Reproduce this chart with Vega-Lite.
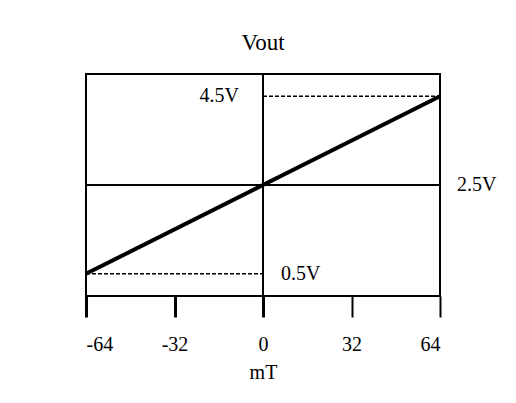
{
  "$schema": "https://vega.github.io/schema/vega-lite/v6.json",
  "width": 354,
  "height": 222,
  "autosize": {"type": "none"},
  "padding": {"left": 86, "top": 74, "right": 76, "bottom": 107},
  "background": "white",
  "config": {"view": {"stroke": "black", "strokeWidth": 2}, "font": "Liberation Serif"},
  "title": {"text": "Vout", "fontSize": 23, "fontWeight": "normal", "font": "Liberation Serif", "color": "black", "offset": 0, "baseline": "alphabetic"},
  "layer": [
    {
      "data": {"values": [{"mT": -64, "V": 0.5}, {"mT": 64, "V": 4.5}]},
      "mark": {"type": "line", "color": "black", "strokeWidth": 4},
      "encoding": {
        "x": {"field": "mT", "type": "quantitative", "scale": {"domain": [-64, 64], "nice": false, "zero": false},
          "axis": {"values": [-64, -32, 0, 32, 64], "domain": false, "grid": false, "tickSize": 21, "tickColor": "black",
            "tickWidth": {"condition": {"test": "datum.value <= 0", "value": 3}, "value": 2},
            "labelExpr": "toString(datum.value)",
            "labelFontSize": 20, "labelColor": "black", "labelPadding": 17, "labelFont": "Liberation Serif",
            "title": "mT", "titleFontSize": 20, "titleFontWeight": "normal", "titleColor": "black", "titlePadding": 8, "titleFont": "Liberation Serif"}},
        "y": {"field": "V", "type": "quantitative", "scale": {"domain": [0, 5], "nice": false, "zero": false}, "axis": null}
      }
    },
    {
      "data": {"values": [{"x1": 0, "x2": 64, "y": 4.5}, {"x1": -64, "x2": 0, "y": 0.5}]},
      "mark": {"type": "rule", "color": "black", "strokeWidth": 1.5, "strokeDash": [4, 2]},
      "encoding": {
        "x": {"field": "x1", "type": "quantitative"},
        "x2": {"field": "x2"},
        "y": {"field": "y", "type": "quantitative"}
      }
    },
    {
      "data": {"values": [{"mT": 0}]},
      "mark": {"type": "rule", "color": "black", "strokeWidth": 2},
      "encoding": {"x": {"field": "mT", "type": "quantitative"}}
    },
    {
      "data": {"values": [{"V": 2.5}]},
      "mark": {"type": "rule", "color": "black", "strokeWidth": 2},
      "encoding": {"y": {"field": "V", "type": "quantitative"}}
    },
    {
      "data": {"values": [{"mT": 0, "V": 4.5, "label": "4.5V"}]},
      "mark": {"type": "text", "align": "right", "baseline": "middle", "dx": -24, "fontSize": 20, "font": "Liberation Serif", "color": "black"},
      "encoding": {"x": {"field": "mT", "type": "quantitative"}, "y": {"field": "V", "type": "quantitative"}, "text": {"field": "label"}}
    },
    {
      "data": {"values": [{"mT": 0, "V": 0.5, "label": "0.5V"}]},
      "mark": {"type": "text", "align": "left", "baseline": "middle", "dx": 18, "fontSize": 20, "font": "Liberation Serif", "color": "black"},
      "encoding": {"x": {"field": "mT", "type": "quantitative"}, "y": {"field": "V", "type": "quantitative"}, "text": {"field": "label"}}
    },
    {
      "data": {"values": [{"mT": 64, "V": 2.5, "label": "2.5V"}]},
      "mark": {"type": "text", "align": "left", "baseline": "middle", "dx": 17, "fontSize": 20, "font": "Liberation Serif", "color": "black"},
      "encoding": {"x": {"field": "mT", "type": "quantitative"}, "y": {"field": "V", "type": "quantitative"}, "text": {"field": "label"}}
    }
  ]
}
